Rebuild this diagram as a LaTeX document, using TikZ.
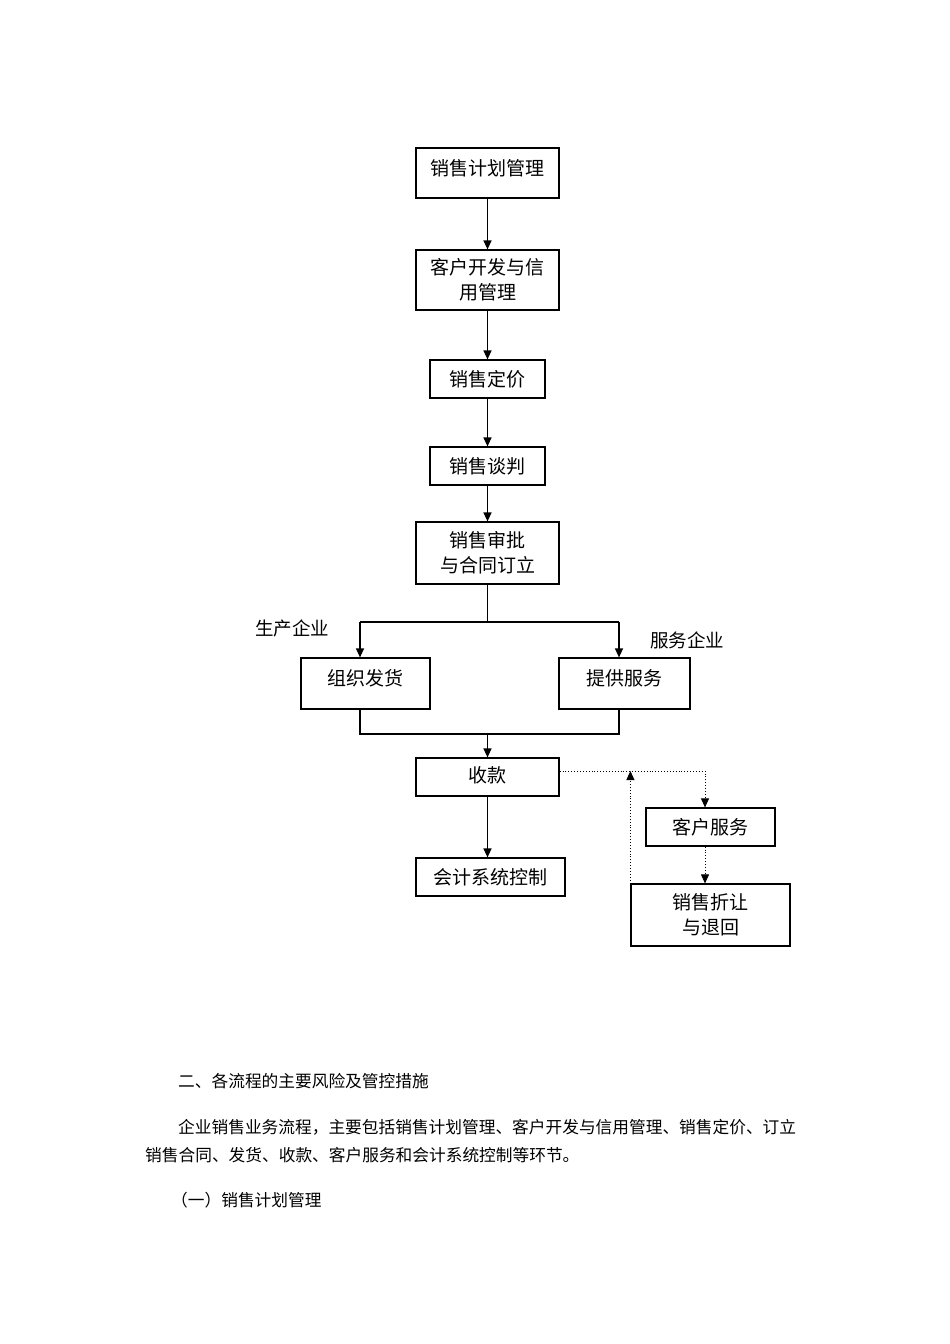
\documentclass[tikz,border=0pt]{standalone}
\usepackage{fontspec}
\setmainfont{Liberation Serif}
\newfontfamily\cjk{Noto Sans CJK SC}
\usetikzlibrary{arrows.meta}
\newcommand{\up}[2]{\raisebox{#1}[\height][\depth]{#2}}
\tikzset{
  box/.style={draw=black, line width=1.2pt, rectangle, inner sep=0pt, align=center,
    font=\cjk\fontsize{19}{25}\selectfont},
  conn/.style={line width=1.2pt, black},
  arr/.style={conn, -{Triangle[width=8pt,length=9pt]}},
  dot/.style={line width=0.9pt, dotted, black},
  darr/.style={dot, -{Triangle[width=8pt,length=9pt]}},
  lbl/.style={font=\cjk\fontsize{18.5}{22}\selectfont, inner sep=0pt},
  body/.style={font=\cjk\fontsize{16.7}{20}\selectfont, inner sep=0pt, anchor=west}
}
\begin{document}
\begin{tikzpicture}[x=1pt,y=-1pt]
\useasboundingbox[fill=white] (0,0) rectangle (950,1344);
\node[box, minimum width=143pt, minimum height=50pt] (b1) at (487.5,173) {\up{5pt}{销售计划管理}};
\node[box, minimum width=143pt, minimum height=60pt] (b2) at (487.5,280) {客户开发与信\\用管理};
\node[box, minimum width=115pt, minimum height=38pt] (b3) at (487.5,379) {销售定价};
\node[box, minimum width=115pt, minimum height=38pt] (b4) at (487.5,466) {销售谈判};
\node[box, minimum width=143pt, minimum height=62pt] (b5) at (487.5,553) {销售审批\\与合同订立};
\node[box, minimum width=129pt, minimum height=51pt] (b6) at (365.5,683.5) {\up{5pt}{组织发货}};
\node[box, minimum width=131pt, minimum height=51pt] (b7) at (624.5,683.5) {\up{5pt}{提供服务}};
\node[box, minimum width=143pt, minimum height=38pt] (b8) at (487.5,777) {\up{2pt}{收款}};
\node[box, minimum width=149pt, minimum height=38pt] (b9) at (490.5,877) {会计系统控制};
\node[box, minimum width=129pt, minimum height=38pt] (b10) at (710.5,827) {客户服务};
\node[box, minimum width=159pt, minimum height=62pt] (b11) at (710.5,915) {销售折让\\与退回};

\node[lbl] (l1) at (292,628) {生产企业};
\node[lbl] (l2) at (687,640) {服务企业};

\draw[arr] (b1) -- (b2);
\draw[arr] (b2) -- (b3);
\draw[arr] (b3) -- (b4);
\draw[arr] (b4) -- (b5);

\coordinate (split) at (487.5,622);
\coordinate (bl) at (360,622);
\coordinate (br) at (619,622);
\draw[conn] (b5.south) -- (split);
\draw[conn] (bl) -- (br);
\draw[arr] (bl) -- (bl |- b6.north);
\draw[arr] (br) -- (br |- b7.north);

\coordinate (ml) at (360,734);
\coordinate (mr) at (619,734);
\coordinate (merge) at (487.5,734);
\draw[conn] (bl |- b6.south) -- (ml) -- (mr) -- (br |- b7.south);
\draw[arr] (merge) -- (b8.north);
\draw[arr] (b8.south) -- (b8.south |- b9.north);

\coordinate (d0) at ([yshift=6pt]b8.east);
\coordinate (dx) at (705,771);
\draw[darr] (d0) -- (dx) -- (dx |- b10.north);
\draw[darr] (dx |- b10.south) -- (dx |- b11.north);
\draw[darr] (b11.north west) -- (b11.north west |- d0);

\node[body] (t1) at (178,1081) {二、各流程的主要风险及管控措施};
\node[body] (t2) at (178,1127) {企业销售业务流程，主要包括销售计划管理、客户开发与信用管理、销售定价、订立};
\node[body] (t3) at (145,1155) {销售合同、发货、收款、客户服务和会计系统控制等环节。};
\node[body] (t4) at (171,1200) {（一）销售计划管理};
\end{tikzpicture}
\end{document}
